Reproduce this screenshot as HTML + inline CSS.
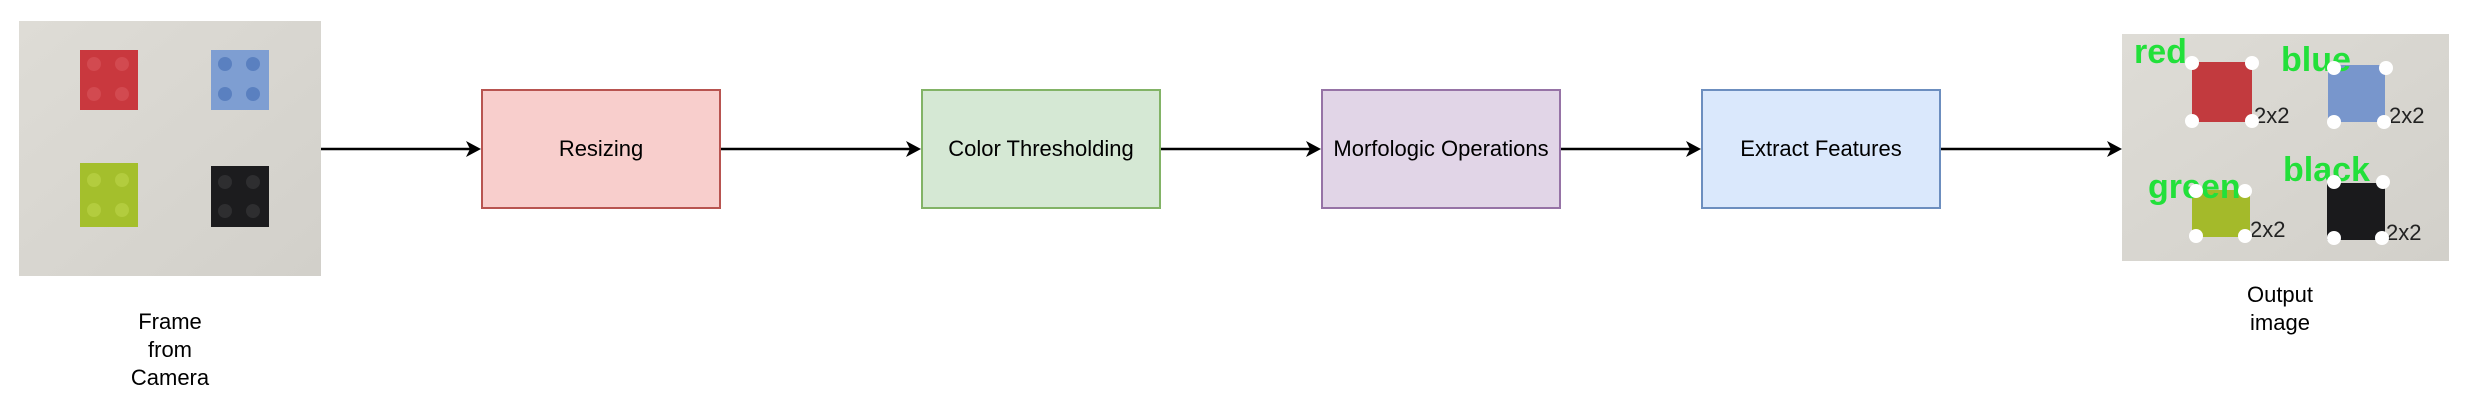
<!DOCTYPE html>
<html><head><meta charset="utf-8"><style>
html,body{margin:0;padding:0;background:#fff;}
body{width:2470px;height:412px;position:relative;overflow:hidden;font-family:"Liberation Sans",sans-serif;}
.box{position:absolute;top:89px;width:240px;height:120px;box-sizing:border-box;border:2px solid;display:flex;align-items:center;justify-content:center;font-size:22px;color:#000;white-space:nowrap;}
.lbl{position:absolute;font-size:22px;text-align:center;line-height:28px;color:#000;}
</style></head><body>
<svg width="2470" height="412" style="position:absolute;left:0;top:0">
<defs>
<linearGradient id="bg" x1="0" y1="0" x2="1" y2="1"><stop offset="0" stop-color="#dedcd6"/><stop offset="1" stop-color="#d2d0ca"/></linearGradient>
</defs>
<!-- photo 1 -->
<rect x="19" y="21" width="302" height="255" fill="url(#bg)"/>
<g>
<rect x="80" y="50" width="58" height="60" fill="#c9383e"/>
<circle cx="94" cy="64" r="7" fill="#d24a50"/><circle cx="122" cy="64" r="7" fill="#d24a50"/><circle cx="94" cy="94" r="7" fill="#d24a50"/><circle cx="122" cy="94" r="7" fill="#d24a50"/>
<rect x="211" y="50" width="58" height="60" fill="#7e9ed2"/>
<circle cx="225" cy="64" r="7" fill="#5a80c0"/><circle cx="253" cy="64" r="7" fill="#5a80c0"/><circle cx="225" cy="94" r="7" fill="#5a80c0"/><circle cx="253" cy="94" r="7" fill="#5a80c0"/>
<rect x="80" y="163" width="58" height="64" fill="#a4bf2c"/>
<circle cx="94" cy="180" r="7" fill="#b3cc3e"/><circle cx="122" cy="180" r="7" fill="#b3cc3e"/><circle cx="94" cy="210" r="7" fill="#b3cc3e"/><circle cx="122" cy="210" r="7" fill="#b3cc3e"/>
<rect x="211" y="166" width="58" height="61" fill="#1c1c1e"/>
<circle cx="225" cy="182" r="7" fill="#2e2e30"/><circle cx="253" cy="182" r="7" fill="#2e2e30"/><circle cx="225" cy="211" r="7" fill="#2e2e30"/><circle cx="253" cy="211" r="7" fill="#2e2e30"/>
</g>
<!-- arrows -->
<g stroke="#000" stroke-width="2.5">
<line x1="321" y1="149" x2="472" y2="149"/>
<line x1="721" y1="149" x2="912" y2="149"/>
<line x1="1161" y1="149" x2="1312" y2="149"/>
<line x1="1561" y1="149" x2="1692" y2="149"/>
<line x1="1941" y1="149" x2="2112" y2="149"/>
</g>
<g fill="#000">
<path d="M481 149 L466 141 L470 149 L466 157Z"/>
<path d="M921 149 L906 141 L910 149 L906 157Z"/>
<path d="M1321 149 L1306 141 L1310 149 L1306 157Z"/>
<path d="M1701 149 L1686 141 L1690 149 L1686 157Z"/>
<path d="M2122 149 L2107 141 L2111 149 L2107 157Z"/>
</g>
<!-- output photo -->
<rect x="2122" y="34" width="327" height="227" fill="url(#bg)"/>
<rect x="2192" y="62" width="60" height="60" fill="#c23a3e"/>
<rect x="2328" y="65" width="57" height="57" fill="#7896cc"/>
<rect x="2192" y="190" width="58" height="47" fill="#a4ba2a"/>
<rect x="2327" y="183" width="58" height="57" fill="#1a1a1c"/>
<g font-family="Liberation Sans" font-size="22" fill="#222">
<text x="2254" y="123">2x2</text><text x="2389" y="123">2x2</text>
<text x="2250" y="237">2x2</text><text x="2386" y="240">2x2</text>
</g>
<g font-family="Liberation Sans" font-weight="bold" font-size="34" fill="#22e03a">
<text x="2134" y="63">red</text><text x="2281" y="71">blue</text>
<text x="2148" y="198">green</text><text x="2283" y="181">black</text>
</g>
<g fill="#fff">
<circle cx="2192" cy="63" r="7"/><circle cx="2252" cy="63" r="7"/><circle cx="2192" cy="121" r="7"/><circle cx="2252" cy="121" r="7"/>
<circle cx="2334" cy="68" r="7"/><circle cx="2386" cy="68" r="7"/><circle cx="2334" cy="122" r="7"/><circle cx="2384" cy="122" r="7"/>
<circle cx="2196" cy="191" r="7"/><circle cx="2245" cy="191" r="7"/><circle cx="2196" cy="236" r="7"/><circle cx="2245" cy="236" r="7"/>
<circle cx="2334" cy="182" r="7"/><circle cx="2383" cy="182" r="7"/><circle cx="2334" cy="238" r="7"/><circle cx="2382" cy="238" r="7"/>
</g>
</svg>
<div class="box" style="left:481px;background:#f8cecc;border-color:#b85450;">Resizing</div>
<div class="box" style="left:921px;background:#d5e8d4;border-color:#82b366;">Color Thresholding</div>
<div class="box" style="left:1321px;background:#e1d5e7;border-color:#9673a6;">Morfologic Operations</div>
<div class="box" style="left:1701px;background:#dae8fc;border-color:#6c8ebf;">Extract Features</div>
<div class="lbl" style="left:70px;top:308px;width:200px;">Frame<br>from<br>Camera</div>
<div class="lbl" style="left:2180px;top:281px;width:200px;">Output<br>image</div>
</body></html>
